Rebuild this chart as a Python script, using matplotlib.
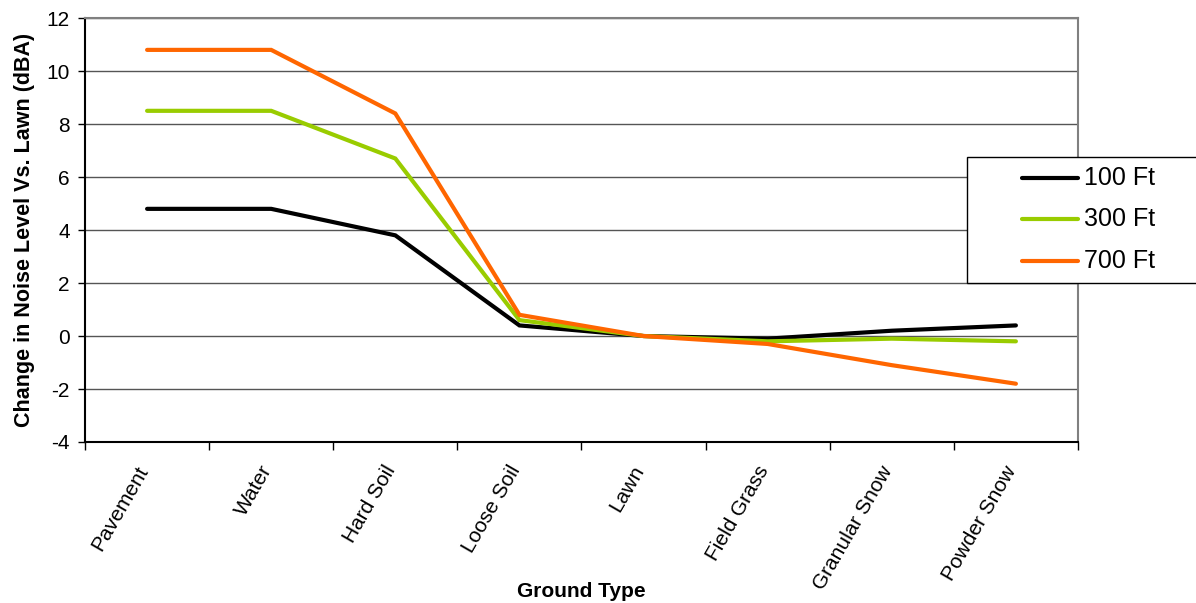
import numpy as np
import matplotlib.pyplot as plt
from matplotlib.patches import Rectangle
from matplotlib.lines import Line2D

plt.rcParams['font.family'] = ['Liberation Sans', 'DejaVu Sans']
plt.rcParams['axes.unicode_minus'] = False

# ground types along the x axis
ground_types = ['Pavement', 'Water', 'Hard Soil', 'Loose Soil', 'Lawn',
                'Field Grass', 'Granular Snow', 'Powder Snow']

# change in noise level vs. lawn [dBA], per distance
noise_100ft = [4.8, 4.8, 3.8, 0.4, 0.0, -0.1, 0.2, 0.4]
noise_300ft = [8.5, 8.5, 6.7, 0.6, 0.0, -0.2, -0.1, -0.2]
noise_700ft = [10.8, 10.8, 8.4, 0.8, 0.0, -0.3, -1.1, -1.8]

series_labels = ['100 Ft', '300 Ft', '700 Ft']
series_colors = ['#000000', '#99CC00', '#FF6600']

fig = plt.figure(figsize=(11.96, 6.03), dpi=100)
ax = fig.add_axes([0.0711, 0.267, 0.8302, 0.703])

x = np.arange(len(ground_types))
for vals, lab, col in zip([noise_100ft, noise_300ft, noise_700ft], series_labels, series_colors):
    ax.plot(x, vals, color=col, linewidth=3, label=lab,
            solid_capstyle='round', solid_joinstyle='miter')

ax.set_xlim(-0.5, len(ground_types) - 0.5)
ax.set_ylim(-4, 12)
ax.set_yticks(np.arange(-4, 13, 2))
ax.yaxis.grid(True, color='#555555', linewidth=1)
ax.set_axisbelow(True)

# category labels at centres, tick marks at the boundaries
ax.set_xticks(x - 0.03)
ax.set_xticklabels(ground_types, rotation=60, ha='right', va='center',
                   rotation_mode='anchor', fontsize=15)
ax.tick_params(axis='x', which='major', length=0, pad=18)
ax.set_xticks(np.arange(-0.5, len(ground_types), 1), minor=True)
ax.tick_params(axis='x', which='minor', length=6, width=1, direction='out')
ax.tick_params(axis='y', labelsize=15, length=5, width=1, direction='out', pad=6)

for side in ['top', 'right']:
    ax.spines[side].set_color('#808080')
    ax.spines[side].set_linewidth(1.5)
for side in ['left', 'bottom']:
    ax.spines[side].set_color('#000000')
    ax.spines[side].set_linewidth(1.5)

ax.set_xlabel('Ground Type', fontsize=15, fontweight='bold', va='center')
ax.xaxis.set_label_coords(0.5, -0.352)
ax.set_ylabel('Change in Noise Level Vs. Lawn (dBA)', fontsize=15.5,
              fontweight='bold', labelpad=8)

# legend box, drawn in pixel positions of the figure
W, H = 1196.0, 603.0
fig.add_artist(Rectangle((967 / W, 1 - 283 / H), 240 / W, 126 / H,
                         transform=fig.transFigure, facecolor='white',
                         edgecolor='black', linewidth=1, clip_on=False))
for i, (lab, col) in enumerate(zip(series_labels, series_colors)):
    yrow = 1 - (177.5 + i * 41.5) / H
    fig.add_artist(Line2D([1022 / W, 1078 / W], [yrow, yrow], transform=fig.transFigure,
                          color=col, linewidth=3, solid_capstyle='round'))
    fig.text(1084 / W, yrow, lab, fontsize=18, va='center', ha='left')

fig.savefig('out.png', dpi=100)
